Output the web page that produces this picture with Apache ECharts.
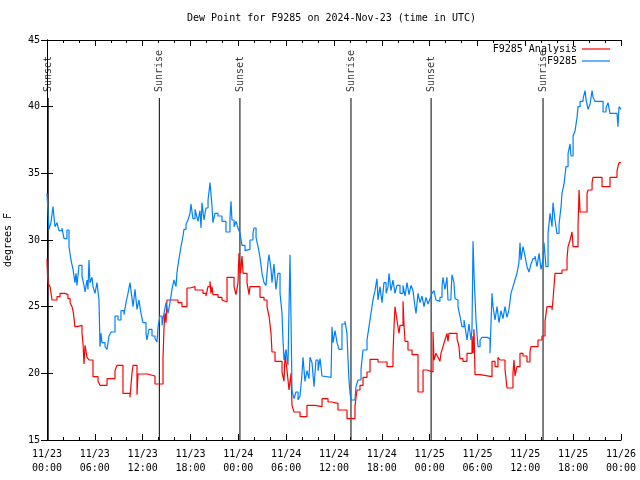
<!DOCTYPE html>
<html><head><meta charset="utf-8">
<script src="https://cdn.jsdelivr.net/npm/echarts@6/dist/echarts.min.js"></script>
<style>html,body{margin:0;padding:0;background:#fff}#c{width:640px;height:480px}</style>
</head><body><div id="c"></div>
<script>
// hours since 2024-11-23 00:00 UTC
const analysisHours = [0,0.06,0.13,0.38,0.63,1.25,1.63,2.26,2.5,2.63,2.9,3.14,3.32,3.5,3.76,4.39,4.52,4.64,4.77,5.02,5.27,5.77,6.4,6.65,7.53,8.53,8.78,9.53,10.41,10.66,10.79,11.29,11.41,12.54,13.55,14.55,14.68,14.8,14.93,15.05,16.43,16.93,17.56,17.94,18.57,19.57,19.94,20.19,20.45,20.57,20.7,20.82,21.45,21.95,22.08,22.58,23.46,23.71,23.96,24.08,24.27,24.46,24.59,25.09,25.34,25.46,26.72,27.22,27.6,27.85,28.1,28.22,28.6,29.48,29.73,29.86,30.11,30.36,30.61,30.73,30.98,31.74,32.61,33.62,34.5,35.25,35.75,36.5,37.63,38.63,38.76,38.89,39.26,39.64,40.14,40.52,41.52,42.65,43.4,43.53,43.65,43.9,44.15,44.28,44.66,44.78,44.91,45.28,45.79,46.54,47.17,47.67,48.42,48.54,48.79,49.04,49.29,49.42,49.67,49.92,50.17,50.3,50.42,51.43,51.68,51.8,52.18,52.68,53.31,53.44,53.56,53.69,54.32,55.82,56.2,56.57,56.82,57.45,57.7,58.45,58.58,58.7,58.95,59.33,59.71,60.21,60.58,60.71,61.59,62.09,62.47,62.72,63.35,63.47,63.72,64.6,65.23,65.36,65.61,65.86,65.99,66.61,66.74,66.87,67.74,67.87,68.37,68.49,69.62,70.62,71.5,71.75,72];
const analysisValues = [28.6,27.4,26.8,26.5,25.5,25.75,26,26.1,25.9,25.6,25.3,25.0,24.5,23.5,23.6,23.0,22.2,20.7,22.1,21.2,21.0,19.75,19.4,19.1,19.6,20.2,20.6,18.5,18.2,20.0,20.6,18.4,19.95,19.8,19.2,21.1,23.5,24.5,23.8,25.5,25.3,25.0,26.4,26.5,26.25,26.0,25.8,26.5,26.9,26.0,26.5,25.9,25.7,25.5,25.35,27.2,26.5,25.9,26.8,29.0,27.5,28.8,27.5,26.8,25.9,26.5,25.7,25.5,25.0,24.3,23.0,21.6,20.9,20.1,19.4,21.4,20.2,18.75,20.0,17.6,17.1,16.75,17.6,17.5,18.1,17.85,17.75,17.25,16.6,17.5,18.2,18.75,19.1,19.7,20.1,21.05,20.85,20.5,21.5,23.5,25.0,24.0,23.0,23.6,25.4,23.6,22.4,21.75,21.4,18.6,20.25,20.1,23.1,21.0,21.5,21.2,20.9,21.5,22.0,22.5,23.0,22.4,23.0,22.6,22.0,21.1,20.9,21.5,22.8,21.5,23.3,19.9,19.75,20.9,20.5,21.2,21.0,20.3,18.9,20.0,21.0,19.8,20.5,21.5,21.3,20.85,21.6,22.0,22.5,22.8,23.9,25.0,24.75,25.5,27.5,27.75,28.6,29.5,30.0,30.6,29.5,31.0,33.75,32.1,33.5,33.75,34.3,34.7,34.0,34.7,35.2,35.8,35.8];

const obsHours = [0,0.13,0.25,0.5,0.75,1.0,1.25,1.5,1.88,2.13,2.5,2.76,3.01,3.26,3.51,3.64,3.76,4.01,4.39,4.64,4.77,5.02,5.14,5.27,5.39,5.64,5.77,6.02,6.27,6.52,6.65,6.77,6.9,7.28,7.53,7.78,8.03,8.53,8.91,9.28,9.66,9.91,10.16,10.41,10.54,10.79,11.04,11.29,11.54,11.79,12.04,12.42,12.54,12.79,13.17,13.55,13.8,13.93,14.17,14.43,14.68,14.93,15.18,15.43,15.68,15.93,16.18,16.31,16.56,16.81,17.06,17.18,17.44,17.69,17.94,18.06,18.31,18.57,18.69,18.94,19.19,19.32,19.44,19.69,19.94,20.2,20.45,20.7,20.82,21.07,21.45,21.95,22.45,22.95,23.08,23.2,23.46,23.71,23.96,24.21,24.46,24.84,25.09,25.46,25.84,25.96,26.22,26.47,26.72,26.97,27.22,27.47,27.72,27.85,28.1,28.22,28.47,28.72,28.97,29.23,29.48,29.6,29.73,29.98,30.23,30.36,30.48,30.61,30.73,30.98,31.23,31.49,31.74,31.99,32.11,32.36,32.61,32.86,32.99,33.24,33.49,33.74,34.0,34.25,34.5,34.62,35.63,35.75,35.88,36.13,36.38,36.63,37.0,37.38,37.63,37.76,37.88,38.01,38.13,38.63,38.76,39.01,39.39,39.64,40.14,40.39,40.64,40.89,41.14,41.39,41.52,41.77,42.02,42.27,42.53,42.78,42.9,43.15,43.4,43.65,43.9,44.28,44.66,44.91,45.16,45.41,45.66,45.91,46.16,46.29,46.54,46.79,47.04,47.29,47.54,47.79,48.04,48.29,48.54,48.79,49.04,49.29,49.55,49.67,49.92,50.17,50.3,50.67,50.8,51.05,51.18,51.43,51.55,51.8,52.05,52.31,52.56,52.68,52.93,53.18,53.31,53.44,53.56,53.81,54.06,54.32,54.57,55.2,55.57,55.82,55.95,56.2,56.45,56.7,56.95,57.2,57.45,57.7,57.95,58.2,58.45,58.7,58.95,59.2,59.33,59.46,59.71,59.96,60.21,60.46,60.71,60.96,61.22,61.47,61.72,61.97,62.22,62.34,62.59,62.85,63.1,63.35,63.47,63.72,63.97,64.23,64.48,64.6,64.85,65.1,65.36,65.61,65.73,65.99,66.24,66.49,66.61,66.87,67.24,67.49,67.62,67.87,68.12,68.37,68.49,68.74,69.75,70.12,70.37,70.62,71.5,71.62,71.75,72];
const obsValues = [33.5,32.0,30.8,31.3,32.5,31.0,31.3,30.7,30.9,30.1,30.75,29.5,28.5,27.8,26.8,27.5,26.6,28.1,27.3,26.6,26.1,27.0,26.3,28.5,26.8,27.2,26.5,26.0,26.8,25.5,22.0,23.0,22.3,22.0,21.8,22.8,23.1,24.3,24.0,24.7,24.4,25.3,26.0,26.8,26.2,25.0,26.3,24.8,25.5,24.5,23.8,23.0,22.5,23.3,22.8,22.6,22.35,23.5,24.3,23.6,24.5,25.3,24.5,25.3,26.3,27.0,26.5,27.6,28.6,29.5,30.3,30.8,31.2,31.5,32.0,32.7,31.6,32.3,32.0,31.4,32.2,30.9,32.8,31.5,32.4,33.0,34.3,32.5,31.3,32.0,31.8,31.4,30.6,31.6,32.9,31.5,31.0,31.4,30.9,30.5,29.6,29.2,29.3,30.0,30.5,30.9,30.2,29.5,28.7,27.5,26.8,26.6,28.3,28.9,27.8,26.8,28.2,26.3,27.5,26.0,24.5,22.5,21.0,21.8,20.6,25.0,28.9,24.0,18.7,18.1,18.6,18.0,18.3,20.0,21.2,19.4,20.2,19.6,21.2,20.8,19.0,21.0,20.2,21.1,19.8,19.7,19.7,23.5,22.3,23.2,22.3,21.8,23.7,23.9,23.0,21.0,19.5,18.5,18.0,18.1,19.0,19.5,20.3,21.75,22.5,23.5,24.5,25.5,26.2,27.1,25.5,26.5,25.3,26.8,26.0,26.5,27.5,26.2,27.0,26.0,26.6,26.0,26.6,25.8,26.8,25.9,26.6,26.2,25.0,24.5,26.0,25.3,25.8,25.0,25.7,25.2,25.6,26.0,26.2,25.5,25.4,25.7,26.5,27.2,26.3,27.2,25.5,25.8,27.4,26.8,25.6,25.5,25.0,24.3,23.5,24.0,23.0,22.5,23.7,22.5,23.3,29.9,27.5,24.0,22.0,22.5,22.7,22.6,21.5,26.0,25.0,24.0,25.0,23.8,24.7,24.1,25.0,24.2,24.8,26.0,26.5,27.0,27.5,28.3,29.8,28.5,29.5,28.8,28.0,27.6,28.2,28.6,28.8,28.0,29.0,27.8,28.5,29.8,28.0,30.5,32.0,31.0,32.8,31.5,30.5,31.2,32.5,33.5,34.2,35.5,36.5,37.2,36.3,37.8,38.2,39.2,40.0,40.4,40.6,41.2,40.5,39.8,40.2,41.2,40.7,40.4,39.6,39.9,40.3,39.5,39.5,38.5,40.0,39.8];

const eventHours = [0.15, 14.09, 24.2, 38.13, 48.18, 62.22];
const eventNames = ['Sunset','Sunrise','Sunset','Sunrise','Sunset','Sunrise'];

const yTicks = [15,20,25,30,35,40,45];

const FONT = 'DejaVu Sans Mono';
const zip = (a, b) => a.map((x, i) => [x, b[i]]);
const pad = n => (n < 10 ? '0' : '') + n;
const fmtHour = h => {
  const day = 23 + Math.floor(h / 24);
  const hr = Math.round(h % 24);
  return '11/' + day + '\n' + pad(hr) + ':00';
};

const eventSeries = eventHours.map((h, i) => ({
  type: 'line', name: 'ev' + i, data: [[h, 15], [h, 40.65]],
  symbol: 'none', silent: true, z: 1,
  lineStyle: { color: '#000', width: 1 }
}));
const eventLabels = {
  type: 'scatter', name: 'evlab', symbolSize: 1, silent: true,
  itemStyle: { color: 'rgba(0,0,0,0)' },
  data: eventHours.map((h, i) => ({ value: [h, 41.1], name: eventNames[i] })),
  label: {
    show: true, position: 'inside', rotate: 90, align: 'left', verticalAlign: 'middle',
    formatter: p => p.name, fontFamily: FONT, fontSize: 10, color: '#000'
  }
};

const axisCommon = {
  axisLine: { show: true, lineStyle: { color: '#000', width: 1 } },
  axisTick: { show: true, inside: true, length: 6, lineStyle: { color: '#000' } },
  splitLine: { show: false }
};

const chart = echarts.init(document.getElementById('c'), null, { renderer: 'canvas' });
chart.setOption({
  animation: false,
  backgroundColor: '#fff',
  title: {
    text: 'Dew Point for F9285 on 2024-Nov-23 (time in UTC)',
    left: 187, top: 13, padding: 0,
    textStyle: { fontFamily: FONT, fontSize: 10, fontWeight: 'normal', color: '#000' }
  },
  legend: [
    { data: ['F9285 Analysis'], right: 30, top: 44, padding: 0, align: 'right', icon: 'rect',
      itemWidth: 28, itemHeight: 1.2, itemGap: 8, textStyle: { fontFamily: FONT, fontSize: 10, color: '#000' } },
    { data: ['F9285'], right: 30, top: 56, padding: 0, align: 'right', icon: 'rect',
      itemWidth: 28, itemHeight: 1.2, itemGap: 8, textStyle: { fontFamily: FONT, fontSize: 10, color: '#000' } }
  ],
  grid: { left: 47, right: 19, top: 40, bottom: 40, containLabel: false, outerBoundsMode: 'none' },
  xAxis: [
    Object.assign({}, axisCommon, {
      type: 'value', min: 0, max: 72, interval: 6, position: 'bottom',
      minorTick: { show: true, splitNumber: 3, length: 3, lineStyle: { color: '#000' } },
      axisLabel: { formatter: fmtHour, fontFamily: FONT, fontSize: 10, color: '#000', margin: 7, lineHeight: 14,
        showMinLabel: true, showMaxLabel: true }
    }),
    Object.assign({}, axisCommon, {
      type: 'value', min: 0, max: 72, interval: 6, position: 'top',
      minorTick: { show: true, splitNumber: 3, length: 3, lineStyle: { color: '#000' } },
      axisLabel: { show: false }
    })
  ],
  yAxis: [
    Object.assign({}, axisCommon, {
      type: 'value', min: yTicks[0], max: yTicks[yTicks.length - 1], interval: 5, position: 'left',
      name: 'degrees F', nameLocation: 'middle', nameGap: 34, nameRotate: 90,
      nameTextStyle: { fontFamily: FONT, fontSize: 10, color: '#000' },
      axisLabel: { fontFamily: FONT, fontSize: 10, color: '#000', margin: 7 }
    }),
    Object.assign({}, axisCommon, {
      type: 'value', min: yTicks[0], max: yTicks[yTicks.length - 1], interval: 5, position: 'right',
      axisLabel: { show: false }
    })
  ],
  series: [
    ...eventSeries,
    eventLabels,
    { type: 'line', name: 'F9285 Analysis', data: zip(analysisHours, analysisValues), step: 'end',
      symbol: 'none', z: 3, color: '#ff0000', lineStyle: { color: '#ff0000', width: 1.2 } },
    { type: 'line', name: 'F9285', data: zip(obsHours, obsValues), step: 'end',
      symbol: 'none', z: 4, color: '#0080ff', lineStyle: { color: '#0080ff', width: 1.2 } }
  ]
});
</script></body></html>
